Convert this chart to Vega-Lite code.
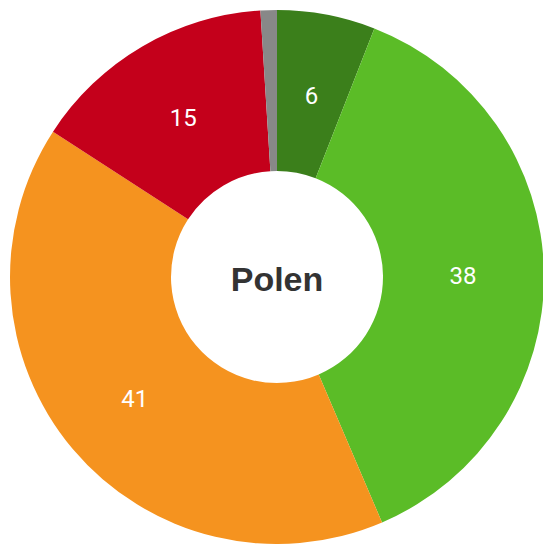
{
  "$schema": "https://vega.github.io/schema/vega-lite/v6.json",
  "width": 534,
  "height": 534,
  "padding": {"left": 10, "top": 10, "right": 0, "bottom": 0},
  "background": "white",
  "view": {"stroke": null},
  "layer": [
    {
      "data": {"values": [
        {"cat": "A", "value": 6, "label": "6", "ord": 1},
        {"cat": "B", "value": 38, "label": "38", "ord": 2},
        {"cat": "C", "value": 41, "label": "41", "ord": 3},
        {"cat": "D", "value": 15, "label": "15", "ord": 4},
        {"cat": "E", "value": 1, "label": "", "ord": 5}
      ]},
      "encoding": {
        "theta": {"field": "value", "type": "quantitative", "stack": true},
        "order": {"field": "ord", "type": "quantitative"},
        "color": {
          "field": "cat", "type": "nominal", "legend": null,
          "scale": {"domain": ["A", "B", "C", "D", "E"], "range": ["#3b7f1b", "#5bbc27", "#f5931f", "#c4001b", "#888888"]}
        }
      },
      "layer": [
        {"mark": {"type": "arc", "outerRadius": 267, "innerRadius": 106}},
        {
          "mark": {"type": "text", "radius": 186, "fontSize": 24, "font": "Roboto", "fontWeight": "normal", "dy": 3},
          "encoding": {"text": {"field": "label"}, "color": {"value": "white"}}
        }
      ]
    },
    {
      "data": {"values": [{"t": "Polen"}]},
      "mark": {"type": "text", "fontSize": 34, "font": "Liberation Sans", "fontWeight": "bold", "color": "#333333", "baseline": "middle", "dy": 4},
      "encoding": {"text": {"field": "t"}}
    }
  ]
}
